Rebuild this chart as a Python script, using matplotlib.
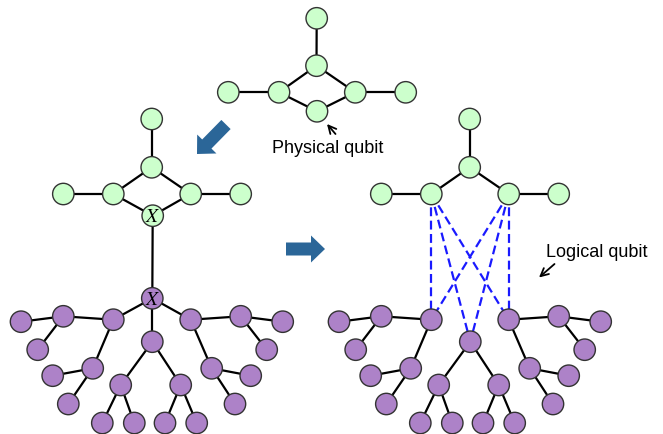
import matplotlib.pyplot as plt
from matplotlib.patches import Circle, FancyArrow

plt.rcParams['mathtext.fontset'] = 'stix'

W, H = 663, 435
GREEN = '#ccffcc'
PURPLE = '#ad82c8'
ARROW_BLUE = '#2b6698'
SHIFT = 318

# small cross shaped code (top)
top_x = [316.7, 316.5, 279.0, 355.3, 317.0, 228.3, 405.7]
top_y = [19.3, 66.7, 93.3, 93.3, 112.3, 93.3, 93.3]
top_edges = [(0, 1), (1, 2), (1, 3), (2, 4), (3, 4), (5, 2), (3, 6)]

# concatenated code, upper part (left)
mid_x = [151.7, 151.7, 113.3, 190.7, 152.7, 63.3, 240.7]
mid_y = [120.0, 168.3, 195.0, 195.0, 216.7, 195.0, 195.0]
mid_edges = [(0, 1), (1, 2), (1, 3), (2, 4), (3, 4), (5, 2), (3, 6)]

# purple tree below
tree_x = [152.3, 113.3, 152.3, 190.7, 63.3, 92.7, 21.0, 37.7, 52.7, 68.3,
          120.7, 180.7, 102.3, 134.3, 165.0, 196.7,
          240.7, 211.7, 282.7, 266.7, 250.7, 235.0]
tree_y = [299.3, 320.7, 342.7, 320.7, 317.3, 369.3, 322.7, 350.7, 376.7, 405.0,
          386.0, 386.0, 424.0, 424.0, 424.0, 424.0,
          317.3, 369.3, 322.7, 350.7, 376.7, 405.0]
tree_edges = [(0, 1), (0, 2), (0, 3), (1, 4), (1, 5), (4, 6), (4, 7), (5, 8), (5, 9),
              (2, 10), (2, 11), (10, 12), (10, 13), (11, 14), (11, 15),
              (3, 16), (3, 17), (16, 18), (16, 19), (17, 20), (17, 21)]

# right graph: upper part without the X node
right_top = [0, 1, 2, 3, 5, 6]
right_top_edges = [(0, 1), (1, 2), (1, 3), (5, 2), (3, 6)]
dashed_from = [2, 3]
dashed_to = [1, 2, 3]

fig = plt.figure(figsize=(6.63, 4.35), dpi=100)
ax = fig.add_axes([0, 0, 1, 1])
ax.set_xlim(0, W)
ax.set_ylim(H, 0)
ax.set_aspect('equal')
ax.axis('off')

R = 10.7

def draw_edges(xs, ys, edges, dx=0, **kw):
	for a, b in edges:
		ax.plot([xs[a] + dx, xs[b] + dx], [ys[a], ys[b]], zorder=1, **kw)

def draw_nodes(xs, ys, idx, color, dx=0, labels=None):
	for i in idx:
		ax.add_patch(Circle((xs[i] + dx, ys[i]), R, facecolor=color,
			edgecolor='#333333', lw=1.0, zorder=3))
		if labels and i in labels:
			ax.text(xs[i] + dx, ys[i], labels[i], ha='center', va='center',
				fontsize=14, zorder=4)

edge_kw = dict(color='black', lw=1.6)

# top
draw_edges(top_x, top_y, top_edges, **edge_kw)
draw_nodes(top_x, top_y, range(len(top_x)), GREEN)

# left concatenated graph
draw_edges(mid_x, mid_y, mid_edges, **edge_kw)
ax.plot([mid_x[4], tree_x[0]], [mid_y[4], tree_y[0]], zorder=1, **edge_kw)
draw_edges(tree_x, tree_y, tree_edges, **edge_kw)
draw_nodes(mid_x, mid_y, range(len(mid_x)), GREEN, labels={4: '$X$'})
draw_nodes(tree_x, tree_y, range(len(tree_x)), PURPLE, labels={0: '$X$'})

# right graph
draw_edges(mid_x, mid_y, right_top_edges, dx=SHIFT, **edge_kw)
draw_edges(tree_x, tree_y, [e for e in tree_edges if e[0] != 0], dx=SHIFT, **edge_kw)
for a in dashed_from:
	for b in dashed_to:
		ax.plot([mid_x[a] + SHIFT, tree_x[b] + SHIFT], [mid_y[a], tree_y[b]],
			color='#1a1aff', lw=1.6, ls=(0, (4, 2)), zorder=1)
draw_nodes(mid_x, mid_y, right_top, GREEN, dx=SHIFT)
draw_nodes(tree_x, tree_y, range(1, len(tree_x)), PURPLE, dx=SHIFT)

# big blue arrows
ax.add_patch(FancyArrow(226, 125.5, -29, 29.5, width=13, head_width=27, head_length=14,
	length_includes_head=True, color=ARROW_BLUE, lw=0, zorder=2))
ax.add_patch(FancyArrow(286, 250, 39, 0, width=13, head_width=27, head_length=14,
	length_includes_head=True, color=ARROW_BLUE, lw=0, zorder=2))

# labels
font = ['Liberation Sans', 'DejaVu Sans']
arrow_kw = dict(arrowstyle='->', color='black', lw=1.3, mutation_scale=14,
	shrinkA=0, shrinkB=0)
ax.text(328, 148.5, 'Physical qubit', ha='center', va='center', fontsize=13, family=font)
ax.annotate('', xy=(327, 125), xytext=(335.5, 135), arrowprops=arrow_kw)
ax.text(597, 252.7, 'Logical qubit', ha='center', va='center', fontsize=13, family=font)
ax.annotate('', xy=(539, 278.5), xytext=(554.5, 265), arrowprops=arrow_kw)

fig.savefig('out.png', dpi=100)
